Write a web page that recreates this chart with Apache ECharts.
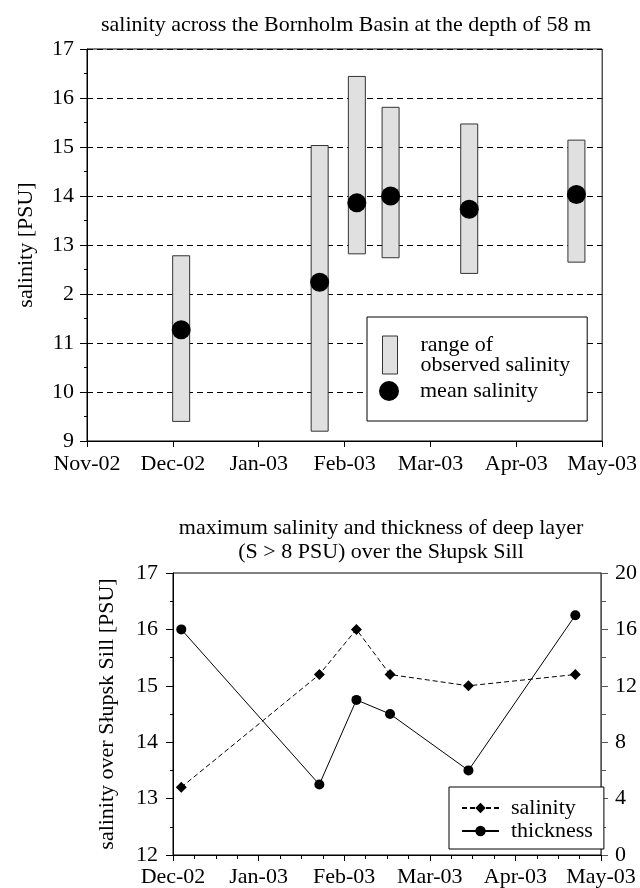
<!DOCTYPE html>
<html>
<head>
<meta charset="utf-8">
<script src="https://cdn.jsdelivr.net/npm/echarts@6/dist/echarts.min.js"></script>
<style>
  html, body { margin: 0; padding: 0; background: #fff; }
  #chart { width: 640px; height: 888px; }
</style>
</head>
<body>
<div id="chart"></div>
<script>
// sampling dates (shared by both panels)
const sampleDates = ["2002-12-04", "2003-01-23", "2003-02-05", "2003-02-16", "2003-03-15", "2003-04-22"];

// top panel: Bornholm Basin, 58 m
const rangeMin = [9.4, 9.2, 12.82, 12.74, 12.42, 12.65];
const rangeMax = [12.78, 15.03, 16.44, 15.81, 15.47, 15.14];
const meanSalinity = [11.27, 12.24, 13.86, 14.0, 13.73, 14.03];

// bottom panel: Slupsk Sill
const maxSalinity = [13.2, 15.2, 16.0, 15.2, 15.0, 15.2];
const thickness = [16, 5, 11, 10, 6, 17];

// tick labels
const monthLabels = ["Nov-02", "Dec-02", "Jan-03", "Feb-03", "Mar-03", "Apr-03", "May-03"];
const topSalinityTicks = ["9", "10", "11", "2", "13", "14", "15", "16", "17"];

const FONT = "'Liberation Serif', 'Times New Roman', Times, serif";
const INK = "#000";

// month position counted from 1 Nov 2002 (one unit per month)
const monthPos = (str) => {
  const [y, m, d] = str.split("-").map(Number);
  const idx = (y - 2002) * 12 + (m - 1) - 10;
  const days = new Date(y, m, 0).getDate();
  return idx + (d - 1) / days;
};

const xs = sampleDates.map(monthPos);
const rangeData = xs.map((x, i) => [x, rangeMin[i], rangeMax[i]]);
const meanData = xs.map((x, i) => [x, meanSalinity[i]]);
const salData = xs.map((x, i) => [x, maxSalinity[i]]);
const thickData = xs.map((x, i) => [x, thickness[i]]);

const labelStyle = { color: INK, fontFamily: FONT, fontSize: 22 };
const lineStyle = { color: INK, width: 1 };

const chart = echarts.init(document.getElementById("chart"));

chart.setOption({
  animation: false,
  textStyle: { fontFamily: FONT },
  title: [
    {
      text: "salinity across the Bornholm Basin at the depth of 58 m",
      left: 346,
      top: 13,
      padding: 0,
      textAlign: "center",
      textStyle: { color: INK, fontFamily: FONT, fontSize: 22, fontWeight: "normal", lineHeight: 24 },
    },
    {
      text: "maximum salinity and thickness of deep layer\n(S > 8 PSU) over the Słupsk Sill",
      left: 381,
      top: 516,
      padding: 0,
      textAlign: "center",
      textStyle: { color: INK, fontFamily: FONT, fontSize: 22, fontWeight: "normal", lineHeight: 24 },
    },
  ],
  grid: [
    { left: 87, top: 49, width: 520, height: 392, show: true, borderColor: INK, borderWidth: 1, backgroundColor: "transparent" },
    { left: 173, top: 573, width: 435, height: 282, show: true, borderColor: INK, borderWidth: 1, backgroundColor: "transparent" },
  ],
  legend: [
    {
      data: [{ name: "range of\nobserved salinity", icon: "rect", itemStyle: { color: "#e0e0e0", borderColor: "#333", borderWidth: 1 } }],
      orient: "vertical",
      left: 367,
      top: 317,
      padding: [17, 17, 45, 15],
      itemWidth: 15,
      itemHeight: 38,
      borderColor: INK,
      borderWidth: 1,
      backgroundColor: "#fff",
      selectedMode: false,
      textStyle: { color: INK, fontFamily: FONT, fontSize: 22, lineHeight: 20, padding: [0, 0, 0, 18] },
    },
    {
      data: [{ name: "mean salinity", icon: "circle", itemStyle: { color: INK } }],
      orient: "vertical",
      left: 379,
      top: 380,
      padding: 0,
      itemWidth: 20,
      itemHeight: 20,
      selectedMode: false,
      textStyle: { color: INK, fontFamily: FONT, fontSize: 22, lineHeight: 20, padding: [0, 0, 0, 16] },
    },
    {
      data: ["salinity", "thickness"],
      orient: "vertical",
      left: 449,
      top: 787,
      padding: [10, 11, 7, 12],
      itemWidth: 37,
      itemHeight: 13,
      itemGap: 1,
      borderColor: INK,
      borderWidth: 1,
      backgroundColor: "#fff",
      selectedMode: false,
      textStyle: { color: INK, fontFamily: FONT, fontSize: 22, lineHeight: 22, padding: [0, 0, 0, 7] },
    },
  ],
  xAxis: [
    {
      type: "value",
      gridIndex: 0,
      min: 0,
      max: 6,
      interval: 1,
      axisLine: { lineStyle },
      axisTick: { length: 6, lineStyle },
      axisLabel: { ...labelStyle, margin: 12, formatter: (v) => monthLabels[v] },
      splitLine: { show: false },
    },
    {
      type: "value",
      gridIndex: 1,
      min: 1,
      max: 6,
      interval: 1,
      axisLine: { lineStyle },
      axisTick: { length: 6, lineStyle },
      minorTick: { show: true, splitNumber: 4, length: 4, lineStyle },
      axisLabel: { ...labelStyle, margin: 11, formatter: (v) => monthLabels[v] },
      splitLine: { show: false },
    },
  ],
  yAxis: [
    {
      type: "value",
      gridIndex: 0,
      min: 9,
      max: 17,
      interval: 1,
      name: "salinity [PSU]",
      nameLocation: "middle",
      nameGap: 50,
      nameTextStyle: labelStyle,
      axisLine: { show: true, lineStyle },
      axisTick: { show: true, length: 7, lineStyle },
      minorTick: { show: true, splitNumber: 2, length: 3, lineStyle },
      axisLabel: { ...labelStyle, margin: 13, formatter: (v) => topSalinityTicks[v - 9] },
      splitLine: { show: true, lineStyle: { color: INK, width: 1, type: [6, 4] } },
    },
    {
      type: "value",
      gridIndex: 1,
      min: 12,
      max: 17,
      interval: 1,
      name: "salinity over Słupsk Sill [PSU]",
      nameLocation: "middle",
      nameGap: 55,
      nameTextStyle: labelStyle,
      axisLine: { show: true, lineStyle },
      axisTick: { show: true, length: 7, lineStyle },
      minorTick: { show: true, splitNumber: 2, length: 3, lineStyle },
      axisLabel: { ...labelStyle, margin: 15 },
      splitLine: { show: false },
    },
    {
      type: "value",
      gridIndex: 1,
      position: "right",
      min: 0,
      max: 20,
      interval: 4,
      axisLine: { show: true, lineStyle: { color: "#555", width: 1 } },
      axisTick: { show: true, length: 7, lineStyle: { color: "#555" } },
      minorTick: { show: true, splitNumber: 2, length: 5, lineStyle: { color: "#555" } },
      axisLabel: { ...labelStyle, margin: 14 },
      splitLine: { show: false },
    },
  ],
  series: [
    {
      name: "range of\nobserved salinity",
      type: "custom",
      xAxisIndex: 0,
      yAxisIndex: 0,
      data: rangeData,
      encode: { x: 0, y: [1, 2] },
      itemStyle: { color: "#e0e0e0", borderColor: "#333", borderWidth: 1 },
      renderItem: (params, api) => {
        const x = api.value(0);
        const hi = api.coord([x, api.value(2)]);
        const lo = api.coord([x, api.value(1)]);
        const w = 17;
        return {
          type: "rect",
          shape: { x: hi[0] - w / 2, y: hi[1], width: w, height: lo[1] - hi[1] },
          style: { fill: "#e0e0e0", stroke: "#333", lineWidth: 1 },
        };
      },
      z: 2,
    },
    {
      name: "mean salinity",
      type: "scatter",
      xAxisIndex: 0,
      yAxisIndex: 0,
      data: meanData,
      symbol: "circle",
      symbolSize: 19,
      itemStyle: { color: INK, opacity: 1 },
      z: 3,
    },
    {
      name: "salinity",
      type: "line",
      xAxisIndex: 1,
      yAxisIndex: 1,
      data: salData,
      symbol: "diamond",
      symbolSize: 11,
      lineStyle: { color: INK, width: 1, type: [5, 3] },
      itemStyle: { color: INK },
    },
    {
      name: "thickness",
      type: "line",
      xAxisIndex: 1,
      yAxisIndex: 2,
      data: thickData,
      symbol: "circle",
      symbolSize: 10,
      lineStyle: { color: INK, width: 1 },
      itemStyle: { color: INK },
    },
  ],
});
</script>
</body>
</html>
